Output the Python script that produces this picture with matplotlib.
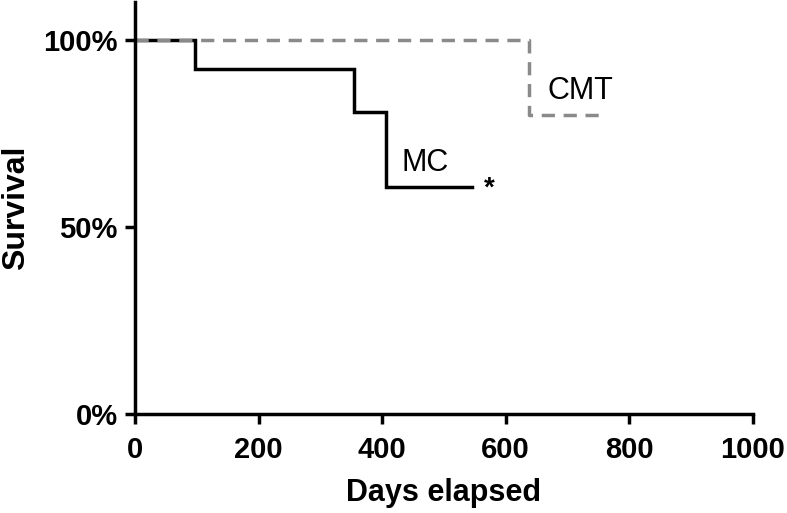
import matplotlib
matplotlib.use("Agg")
import matplotlib.pyplot as plt
from matplotlib.ticker import FuncFormatter

plt.rcParams['font.family'] = ['Liberation Sans', 'DejaVu Sans']

# Kaplan-Meier step data (days, survival %)
mc_days = [0, 97, 355, 407, 546]
mc_surv = [100, 92.2, 80.8, 60.8, 60.8]
cmt_days = [0, 638, 762]
cmt_surv = [100, 79.9, 79.9]

x_ticks = [0, 200, 400, 600, 800, 1000]
y_ticks = [0, 50, 100]

fig = plt.figure(figsize=(7.87, 5.13), dpi=100)
ax = fig.add_axes([0.1715, 0.193, 0.785, 0.803])

ax.step(mc_days, mc_surv, where='post', color='black', lw=2.5, zorder=3,
        solid_joinstyle='miter')
ax.step(cmt_days, cmt_surv, where='post', color='#8a8a8a', lw=2.5,
        linestyle=(0, (3.8, 2.5)), zorder=4)

ax.text(470, 67.1, 'MC', fontsize=22, ha='center', va='center')
ax.text(721, 86.3, 'CMT', fontsize=22, ha='center', va='center')
ax.text(573, 58.5, '*', fontsize=20, ha='center', va='baseline', fontweight='bold')

ax.set_xlim(0, 1000)
ax.set_ylim(0, 110.2)
ax.set_xticks(x_ticks)
ax.set_yticks(y_ticks)
ax.yaxis.set_major_formatter(FuncFormatter(lambda v, p: f"{int(v)}%"))
for s in ['top', 'right']:
    ax.spines[s].set_visible(False)
for s in ['left', 'bottom']:
    ax.spines[s].set_linewidth(2.5)
ax.tick_params(width=2.5, length=7.5, labelsize=21)
ax.tick_params(axis='x', pad=8.5)
ax.tick_params(axis='y', pad=5)
for lab in ax.get_xticklabels() + ax.get_yticklabels():
    lab.set_fontweight('bold')
ax.set_xlabel('Days elapsed', fontsize=22, fontweight='bold', labelpad=10)
ax.set_ylabel('Survival', fontsize=23, fontweight='bold')
ax.yaxis.set_label_coords(-0.168, 0.5)
ax.spines['left'].set_zorder(5)

fig.savefig('out.png', dpi=100)
